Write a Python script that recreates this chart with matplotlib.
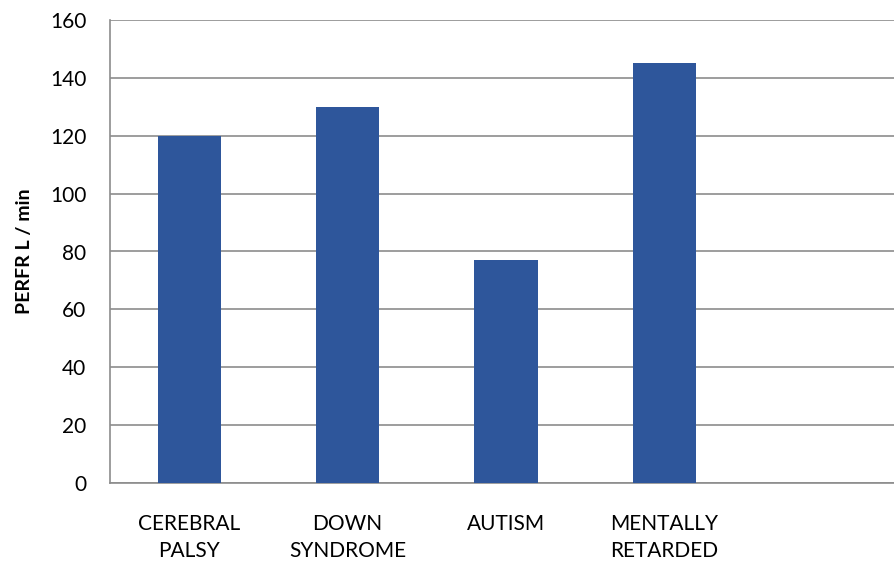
import matplotlib.pyplot as plt
from matplotlib import font_manager

categories = ['CEREBRAL\nPALSY', 'DOWN\nSYNDROME', 'AUTISM', 'MENTALLY\nRETARDED']
perfr = [120, 130, 77, 145]
yticks = [0, 20, 40, 60, 80, 100, 120, 140, 160]

names = {f.name for f in font_manager.fontManager.ttflist}
family = 'Liberation Sans Narrow' if 'Liberation Sans Narrow' in names else 'Lato'
plt.rcParams['font.family'] = family

fig = plt.figure(figsize=(8.94, 5.61), dpi=100)
fig.patch.set_facecolor('white')
# axes runs past the right edge of the picture, like the source
ax = fig.add_axes([110 / 894, 78 / 561, 792 / 894, 463 / 561])

x = list(range(len(categories)))
ax.bar(x, perfr, width=0.4, color='#2E569B', zorder=3)

ax.set_xlim(-0.5, len(categories) + 0.5)
ax.set_ylim(0, 160)
ax.set_yticks(yticks)
ax.set_xticks(x)
ax.set_xticklabels(categories, fontsize=15, linespacing=1.45)
ax.tick_params(axis='both', length=0, labelsize=15, colors='black')
ax.tick_params(axis='x', pad=22)
ax.tick_params(axis='y', pad=17)
ax.yaxis.grid(True, color='#8C8C8C', linewidth=1.2, zorder=0)

for s in ['top', 'right']:
    ax.spines[s].set_visible(False)
for s in ['left', 'bottom']:
    ax.spines[s].set_color('#8C8C8C')
    ax.spines[s].set_linewidth(1.2)

ax.set_ylabel('PERFR L / min', fontsize=14, fontweight='bold', labelpad=12)

fig.savefig('out.png', dpi=100, facecolor='white')
print(family)
